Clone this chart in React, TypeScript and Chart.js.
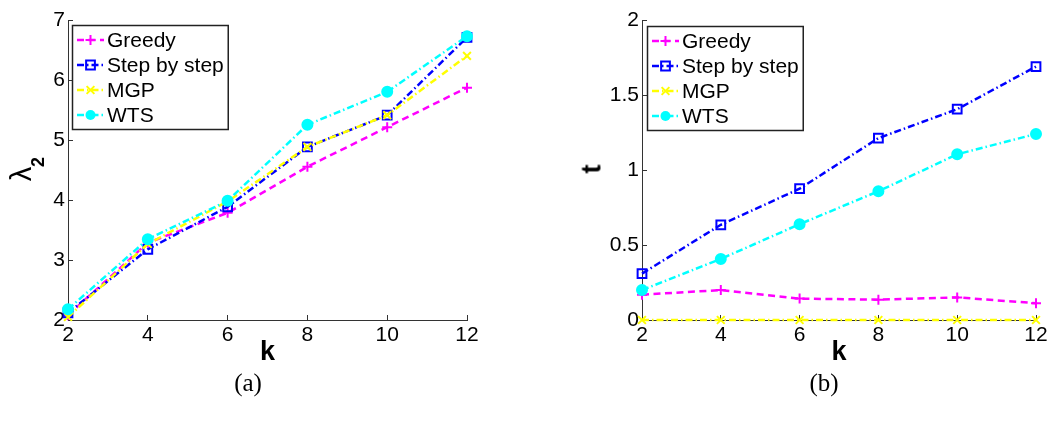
import React, { useEffect, useRef } from 'react';
import { Chart, registerables } from 'chart.js';

Chart.register(...registerables);

// ---------- data ----------
const kValues = [2, 4, 6, 8, 10, 12];
const seriesNames = ['Greedy', 'Step by step', 'MGP', 'WTS'];

const lambdaGreedy = [2.08, 3.29, 3.79, 4.56, 5.22, 5.88];
const lambdaStep = [2.12, 3.18, 3.89, 4.89, 5.42, 6.72];
const lambdaMGP = [2.05, 3.27, 3.98, 4.89, 5.42, 6.41];
const lambdaWTS = [2.18, 3.35, 3.99, 5.26, 5.81, 6.74];

const timeGreedy = [0.169, 0.2, 0.143, 0.136, 0.151, 0.112];
const timeStep = [0.31, 0.636, 0.877, 1.215, 1.408, 1.693];
const timeMGP = [0, 0, 0, 0, 0, 0];
const timeWTS = [0.2, 0.408, 0.64, 0.86, 1.107, 1.243];

const xTicks = [2, 4, 6, 8, 10, 12];
const lambdaTicks = [2, 3, 4, 5, 6, 7];
const timeTicks = [0, 0.5, 1, 1.5, 2];

// ---------- styles ----------
const FONT = '"Liberation Sans", Arial, Helvetica, sans-serif';
const DASH_DOT = [7, 3, 1.5, 3];
const seriesStyles = [
  { color: '#ff00ff', dash: [7, 4.5], point: 'cross', radius: 5, fill: false },
  { color: '#0000ff', dash: DASH_DOT, point: 'rect', radius: 6.2, fill: false },
  { color: '#ffff00', dash: DASH_DOT, point: 'crossRot', radius: 5.5, fill: false },
  { color: '#00ffff', dash: DASH_DOT, point: 'circle', radius: 5, fill: true },
];

function drawMarker(ctx: CanvasRenderingContext2D, style: any, x: number, y: number) {
  const r = style.radius;
  ctx.save();
  ctx.setLineDash([]);
  ctx.strokeStyle = style.color;
  ctx.fillStyle = style.color;
  ctx.lineWidth = 2;
  ctx.beginPath();
  if (style.point === 'cross') {
    ctx.moveTo(x - r, y); ctx.lineTo(x + r, y);
    ctx.moveTo(x, y - r); ctx.lineTo(x, y + r);
    ctx.stroke();
  } else if (style.point === 'crossRot') {
    const d = r * Math.SQRT1_2;
    ctx.moveTo(x - d, y - d); ctx.lineTo(x + d, y + d);
    ctx.moveTo(x - d, y + d); ctx.lineTo(x + d, y - d);
    ctx.stroke();
  } else if (style.point === 'rect') {
    const s = r * Math.SQRT1_2;
    ctx.rect(x - s, y - s, 2 * s, 2 * s);
    ctx.stroke();
  } else {
    ctx.arc(x, y, r, 0, Math.PI * 2);
    ctx.fill();
  }
  ctx.restore();
}

const boxLegend = {
  id: 'boxLegend',
  afterDatasetsDraw(chart: any, _args: any, opts: any) {
    const ctx: CanvasRenderingContext2D = chart.ctx;
    const area = chart.chartArea;
    const x0 = Math.round(area.left + opts.dx);
    const y0 = Math.round(area.top + opts.dy);
    ctx.save();
    ctx.font = `21px ${FONT}`;
    let maxW = 0;
    seriesNames.forEach((n) => { maxW = Math.max(maxW, ctx.measureText(n).width); });
    const w = 35 + maxW + 4;
    const h = 104;
    ctx.fillStyle = '#ffffff';
    ctx.fillRect(x0, y0, w, h);
    ctx.strokeStyle = '#222';
    ctx.lineWidth = 1.5;
    ctx.strokeRect(x0 + 0.5, y0 + 0.5, w, h);
    seriesNames.forEach((name, i) => {
      const st = seriesStyles[i];
      const cy = y0 + 15 + i * 25;
      ctx.save();
      ctx.strokeStyle = st.color;
      ctx.lineWidth = 2.5;
      ctx.setLineDash(st.dash);
      ctx.beginPath();
      ctx.moveTo(x0 + 5, cy);
      ctx.lineTo(x0 + 32, cy);
      ctx.stroke();
      ctx.restore();
      drawMarker(ctx, st, x0 + 18.5, cy);
      ctx.fillStyle = '#000';
      ctx.textBaseline = 'middle';
      ctx.textAlign = 'left';
      ctx.fillText(name, x0 + 35, cy + 1);
    });
    ctx.restore();
  },
};

function buildConfig(
  series: number[][],
  yTicks: number[],
  yAxisWidth: number,
  padRight: number,
  legendDx: number,
  legendDy: number
): any {
  const datasets = series.map((vals, i) => {
    const st = seriesStyles[i];
    return {
      label: seriesNames[i],
      data: kValues.map((k, j) => ({ x: k, y: vals[j] })),
      borderColor: st.color,
      backgroundColor: st.color,
      borderWidth: 2.5,
      borderDash: st.dash,
      pointStyle: st.point,
      pointRadius: st.radius,
      pointHoverRadius: st.radius,
      pointBorderWidth: 2,
      pointBorderColor: st.color,
      pointBackgroundColor: st.fill ? st.color : 'rgba(0,0,0,0)',
      tension: 0,
      fill: false,
      clip: false,
      order: series.length - i,
    };
  });
  const axisColor = '#333';
  return {
    type: 'line',
    data: { datasets },
    plugins: [boxLegend],
    options: {
      responsive: false,
      animation: false,
      devicePixelRatio: 1,
      events: [],
      layout: { padding: { top: 16, right: padRight, bottom: 0, left: 0 } },
      plugins: {
        legend: { display: false },
        tooltip: { enabled: false },
        boxLegend: { dx: legendDx, dy: legendDy },
      },
      scales: {
        x: {
          type: 'linear',
          min: xTicks[0],
          max: xTicks[xTicks.length - 1],
          afterBuildTicks: (s: any) => { s.ticks = xTicks.map((v) => ({ value: v })); },
          afterFit: (s: any) => { s.height = 50; },
          ticks: { color: '#000', font: { family: FONT, size: 21 }, padding: 8, maxRotation: 0, autoSkip: false, callback: (v: any) => String(v) },
          grid: { display: true, drawOnChartArea: false, drawTicks: true, tickLength: -5, color: axisColor, tickWidth: 1 },
          border: { display: true, color: axisColor, width: 1 },
          title: { display: true, text: 'k', color: '#000', font: { family: FONT, size: 27, weight: 'bold' }, padding: { top: 0, bottom: 1 } },
        },
        y: {
          type: 'linear',
          position: 'left',
          min: yTicks[0],
          max: yTicks[yTicks.length - 1],
          afterBuildTicks: (s: any) => { s.ticks = yTicks.map((v) => ({ value: v })); },
          afterFit: (s: any) => { s.width = yAxisWidth; },
          ticks: { color: '#000', font: { family: FONT, size: 21 }, padding: 8, autoSkip: false, callback: (v: any) => String(v) },
          grid: { display: true, drawOnChartArea: false, drawTicks: true, tickLength: -5, color: axisColor, tickWidth: 1 },
          border: { display: true, color: axisColor, width: 1 },
          title: { display: false },
        },
      },
    },
  };
}

function LineChart(props: { left: number; width: number; height: number; config: any }) {
  const ref = useRef<HTMLCanvasElement | null>(null);
  useEffect(() => {
    if (!ref.current) return;
    const chart = new Chart(ref.current, props.config);
    return () => chart.destroy();
  }, []);
  return (
    <canvas
      ref={ref}
      width={props.width}
      height={props.height}
      style={{ position: 'absolute', left: props.left, top: 0, width: props.width, height: props.height, display: 'block' }}
    />
  );
}

const captionStyle: React.CSSProperties = {
  position: 'absolute',
  top: 369,
  fontFamily: '"Liberation Serif", "DejaVu Serif", serif',
  fontSize: 25,
  lineHeight: '28px',
  textAlign: 'center',
  color: '#000',
};

function RotLabel(props: { x: number; y: number; size: number; bold?: boolean; children: React.ReactNode }) {
  return (
    <div
      style={{
        position: 'absolute',
        left: props.x,
        top: props.y,
        transform: 'translate(-50%, -50%) rotate(-90deg)',
        fontFamily: FONT,
        fontSize: props.size,
        fontWeight: props.bold ? 'bold' : 'normal',
        lineHeight: 1,
        whiteSpace: 'nowrap',
        color: '#000',
      }}
    >
      {props.children}
    </div>
  );
}

export default function App() {
  const cfgA = buildConfig([lambdaGreedy, lambdaStep, lambdaMGP, lambdaWTS], lambdaTicks, 68, 53, 4, 4);
  const cfgB = buildConfig([timeGreedy, timeStep, timeMGP, timeWTS], timeTicks, 112, 21, 5, 5);
  return (
    <div style={{ position: 'absolute', left: 0, top: 0, width: 1057, height: 433, background: '#fff', overflow: 'hidden' }}>
      <LineChart left={0} width={520} height={370} config={cfgA} />
      <LineChart left={530} width={527} height={370} config={cfgB} />
      <RotLabel x={21} y={174} size={29}>λ</RotLabel>
      <RotLabel x={38} y={162} size={18} bold>2</RotLabel>
      <RotLabel x={592} y={169} size={27} bold>t</RotLabel>
      <div style={{ ...captionStyle, left: 148, width: 200 }}>(a)</div>
      <div style={{ ...captionStyle, left: 724, width: 200 }}>(b)</div>
    </div>
  );
}
